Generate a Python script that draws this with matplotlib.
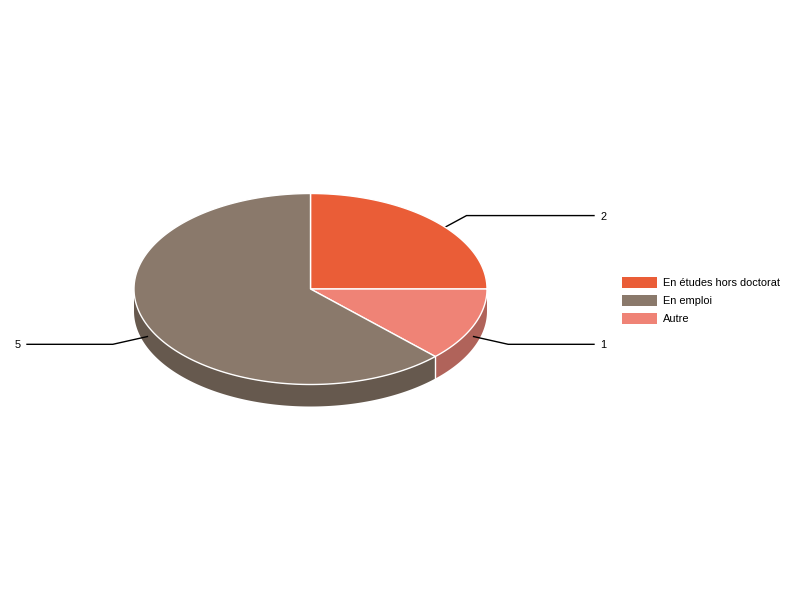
import numpy as np
import matplotlib
matplotlib.use("Agg")
import matplotlib.pyplot as plt
from matplotlib.patches import Polygon, Rectangle

plt.rcParams["font.family"] = ["Liberation Sans", "DejaVu Sans"]

# legend order
categories = ["En études hors doctorat", "En emploi", "Autre"]
legend_colors = ["#EA5D37", "#8A796B", "#EF8376"]

# drawing order on the pie, clockwise from the top
slice_names = ["En études hors doctorat", "Autre", "En emploi"]
slice_values = [2, 1, 5]
top_colors = ["#EA5D37", "#EF8376", "#8A796B"]
side_colors = ["#A8422A", "#B0635A", "#66594E"]

cx, cy = 310.5, 289
rx, ry = 176.5, 95.5
depth = 22
leader_len = 35.5

fig = plt.figure(figsize=(8, 6), dpi=100)
ax = fig.add_axes([0, 0, 1, 1])
ax.set_xlim(0, 800)
ax.set_ylim(600, 0)
ax.axis("off")


def arc(a0, a1, dy=0):
    t = np.radians(np.linspace(a0, a1, 200))
    return np.column_stack([cx + rx * np.cos(t), cy + dy - ry * np.sin(t)])


total = sum(slice_values)
angle = 90
for value, top, side in zip(slice_values, top_colors, side_colors):
    end = angle - 360 * value / total
    mid = (angle + end) / 2

    # side wall, only the part facing the viewer
    lo, hi = max(end, -180), min(angle, 0)
    if hi > lo:
        wall = np.vstack([arc(hi, lo), arc(lo, hi, depth)])
        ax.add_patch(Polygon(wall, closed=True, fc=side, ec="none", zorder=1))

    # leader line, hidden by the top face where they overlap
    px = cx + rx * np.cos(np.radians(mid))
    py = cy + depth / 2 - ry * np.sin(np.radians(mid))
    dx, dy = px - cx, py - (cy + depth / 2)
    norm = np.hypot(dx, dy)
    ex, ey = px + leader_len * dx / norm, py + leader_len * dy / norm
    side_sign = 1 if dx > 0 else -1
    fx = 594 if side_sign > 0 else 27
    ax.plot([px, ex, fx], [py, ey, ey], color="black", lw=1, zorder=3,
            solid_joinstyle="miter")
    ax.text(fx + 6.5 * side_sign, ey, str(value), fontsize=7.92, color="black",
            ha="left" if side_sign > 0 else "right", va="center_baseline", zorder=5)

    # top face
    face = np.vstack([[cx, cy], arc(angle, end)])
    ax.add_patch(Polygon(face, closed=True, fc=top, ec="white", lw=1,
                         joinstyle="round", zorder=4))
    angle = end

# white seam on the wall at the slice boundary facing the viewer
seam = -45
sx = cx + rx * np.cos(np.radians(seam))
sy = cy - ry * np.sin(np.radians(seam))
ax.plot([sx, sx], [sy, sy + depth], color="white", lw=1, zorder=2)

# legend
for i, (name, color) in enumerate(zip(categories, legend_colors)):
    y = 276.5 + 18 * i
    ax.add_patch(Rectangle((622, y), 35, 11, fc=color, ec="none", zorder=2))
    ax.text(663, y + 5.5, name, fontsize=7.92, color="black",
            ha="left", va="center_baseline")

fig.savefig("out.png", dpi=100)
